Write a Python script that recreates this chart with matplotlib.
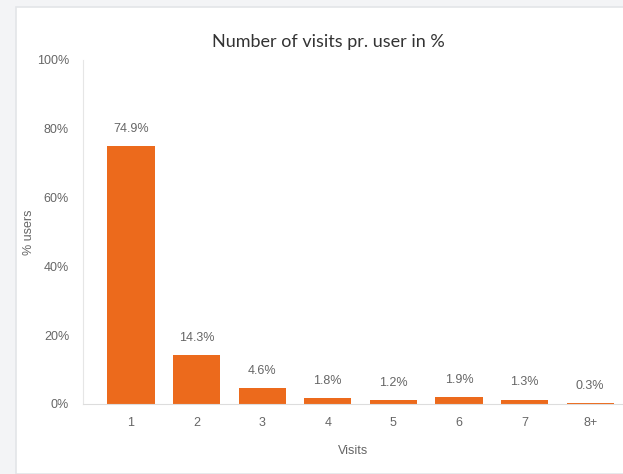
import matplotlib.pyplot as plt
from matplotlib.patches import Rectangle

visits = ['1', '2', '3', '4', '5', '6', '7', '8+']
share = [74.9, 14.3, 4.6, 1.8, 1.2, 1.9, 1.3, 0.3]
labels = ['74.9%', '14.3%', '4.6%', '1.8%', '1.2%', '1.9%', '1.3%', '0.3%']
yticks = [0, 20, 40, 60, 80, 100]

plt.rcParams['font.family'] = ['Liberation Sans', 'DejaVu Sans']

fig = plt.figure(figsize=(6.23, 4.74), dpi=100)
fig.patch.set_facecolor('#f3f4f6')
# white card
fig.add_artist(Rectangle((16 / 623, 0), 1, 1 - 7 / 474, transform=fig.transFigure,
                         facecolor='white', edgecolor='#e3e5e8', lw=1.2, zorder=0))

ax = fig.add_axes([83 / 623, 1 - 404 / 474, 1 - 83 / 623, (404 - 60) / 474])
ax.set_facecolor('none')
x = range(len(visits))
bars = ax.bar(x, share, width=0.72, color='#ec6a1c')
for b, lab in zip(bars, labels):
    ax.annotate(lab, (b.get_x() + b.get_width() / 2, b.get_height()),
                xytext=(0, 8), textcoords='offset points', ha='center', va='bottom',
                fontsize=9, color='#666666')

ax.set_xlim(-0.73, 7.5)
ax.set_ylim(0, 100)
ax.set_yticks(yticks)
ax.set_yticklabels([f'{v}%' for v in yticks])
ax.set_xticks(list(x))
ax.set_xticklabels(visits)
ax.tick_params(axis='both', length=0, colors='#666666', labelsize=9)
ax.tick_params(axis='y', pad=10)
ax.tick_params(axis='x', pad=9)
for s in ['top', 'right']:
    ax.spines[s].set_visible(False)
ax.spines['left'].set_color('#e6e6e6')
ax.spines['bottom'].set_color('#dddddd')

ax.set_ylabel('% users', fontsize=9, color='#666666', labelpad=1)
ax.set_xlabel('Visits', fontsize=9, color='#666666', labelpad=12)
fig.text(328 / 623, 1 - 42 / 474, 'Number of visits pr. user in %', ha='center', va='center',
         fontsize=13, color='#333333', family=['Lato', 'DejaVu Sans'])

fig.savefig('out.png', dpi=100)
